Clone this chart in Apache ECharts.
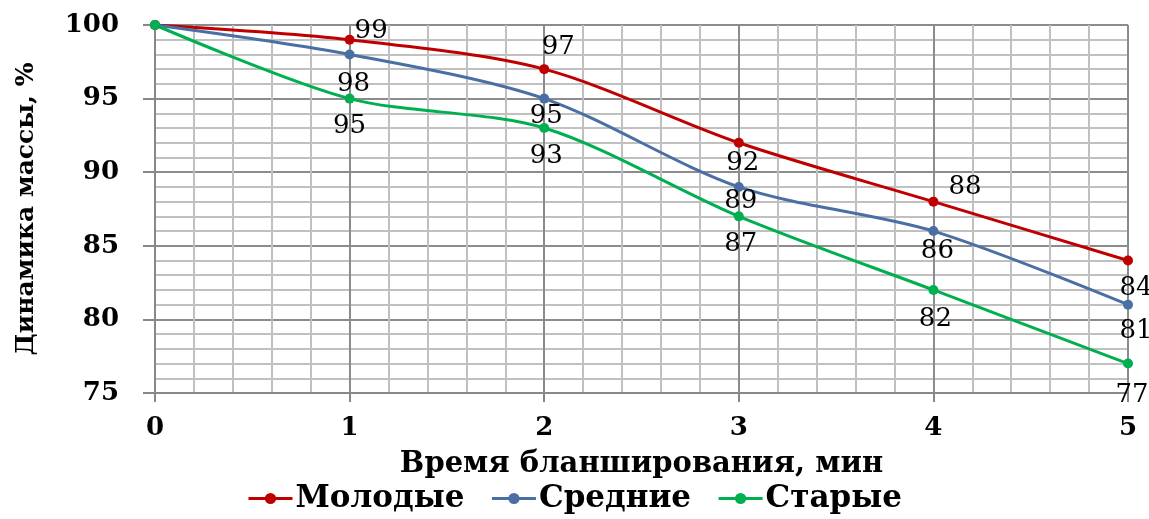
<!DOCTYPE html>
<html>
<head>
<meta charset="utf-8">
<script src="https://cdn.jsdelivr.net/npm/echarts@6/dist/echarts.min.js"></script>
<style>
html, body { margin: 0; padding: 0; background: #fff; }
#chart { width: 1149px; height: 519px; }
</style>
</head>
<body>
<div id="chart"></div>
<script>
// данные диаграммы
var times = [0, 1, 2, 3, 4, 5];
var youngVals = [100, 99, 97, 92, 88, 84];
var middleVals = [100, 98, 95, 89, 86, 81];
var oldVals = [100, 95, 93, 87, 82, 77];
var seriesNames = ['Молодые', 'Средние', 'Старые'];
var yTicks = [75, 80, 85, 90, 95, 100];

var serif = 'DejaVu Serif';

// где подписи у точек (0-я точка без подписи)
var labelPlace = {
    'Молодые': [null, ['right', [-6, -8]], ['top', [14, 2]], ['bottom', [4, -4]], ['right', [4, -14]], ['bottom', [8, 4]]],
    'Средние': [null, ['bottom', [4, 6]], ['bottom', [2, -6]], ['bottom', [2, -10]], ['bottom', [4, -4]], ['bottom', [8, 3]]],
    'Старые':  [null, ['bottom', [0, 4]], ['bottom', [2, 4]], ['bottom', [2, 4]], ['bottom', [2, 5]], ['bottom', [4, 8]]]
};

function makeData(name, vals) {
    var out = [];
    for (var i = 0; i < vals.length; i++) {
        var item = { value: [times[i], vals[i]] };
        var p = labelPlace[name][i];
        if (p == null) {
            item.label = { show: false };
        } else {
            item.label = { show: true, position: p[0], offset: p[1] };
        }
        out.push(item);
    }
    return out;
}

function makeSeries(name, vals, color) {
    return {
        name: name,
        type: 'line',
        data: makeData(name, vals),
        smooth: 0.3,
        symbol: 'circle',
        symbolSize: 10,
        lineStyle: { color: color, width: 3 },
        itemStyle: { color: color },
        label: {
            color: '#000',
            fontFamily: serif,
            fontSize: 26,
            distance: 6
        },
        z: 3
    };
}

var chart = echarts.init(document.getElementById('chart'));

var option = {
    animation: false,
    backgroundColor: '#fff',
    grid: { left: 155, right: 21, top: 25, bottom: 126 },
    xAxis: {
        type: 'value',
        min: 0,
        max: 5,
        interval: 1,
        name: 'Время бланширования, мин',
        nameLocation: 'middle',
        nameGap: 57,
        nameTextStyle: { fontFamily: serif, fontWeight: 'bold', fontSize: 29, color: '#000' },
        axisLine: { show: true, lineStyle: { color: '#888', width: 2 } },
        axisTick: { show: true, length: 9, lineStyle: { color: '#888', width: 2 } },
        axisLabel: {
            fontFamily: serif, fontWeight: 'bold', fontSize: 26, color: '#000', margin: 22,
            formatter: function (v) { return times.indexOf(v) >= 0 ? String(v) : ''; }
        },
        splitLine: { show: true, lineStyle: { color: '#8c8c8c', width: 2 } },
        minorTick: { show: false, splitNumber: 5 },
        minorSplitLine: { show: true, lineStyle: { color: '#c0c0c0', width: 2 } }
    },
    yAxis: {
        type: 'value',
        min: 75,
        max: 100,
        interval: 5,
        name: 'Динамика массы, %',
        nameLocation: 'middle',
        nameGap: 116,
        nameTextStyle: { fontFamily: serif, fontWeight: 'bold', fontSize: 25, color: '#000' },
        axisLine: { show: true, lineStyle: { color: '#888', width: 2 } },
        axisTick: { show: true, length: 12, lineStyle: { color: '#888', width: 2 } },
        axisLabel: {
            fontFamily: serif, fontWeight: 'bold', fontSize: 26, color: '#000', margin: 36,
            formatter: function (v) { return yTicks.indexOf(v) >= 0 ? String(v) : ''; }
        },
        splitLine: { show: true, lineStyle: { color: '#8c8c8c', width: 2 } },
        minorTick: { show: false, splitNumber: 5 },
        minorSplitLine: { show: true, lineStyle: { color: '#c0c0c0', width: 2 } }
    },
    legend: {
        bottom: 0,
        left: 'center',
        data: seriesNames,
        itemWidth: 44,
        itemHeight: 14,
        itemGap: 26,
        lineStyle: { width: 3 },
        textStyle: { fontFamily: serif, fontWeight: 'bold', fontSize: 31, color: '#000', padding: [0, 0, 0, -2] }
    },
    series: [
        makeSeries('Молодые', youngVals, '#c00000'),
        makeSeries('Средние', middleVals, '#4a6fa5'),
        makeSeries('Старые', oldVals, '#00b050')
    ]
};

chart.setOption(option);
</script>
</body>
</html>
